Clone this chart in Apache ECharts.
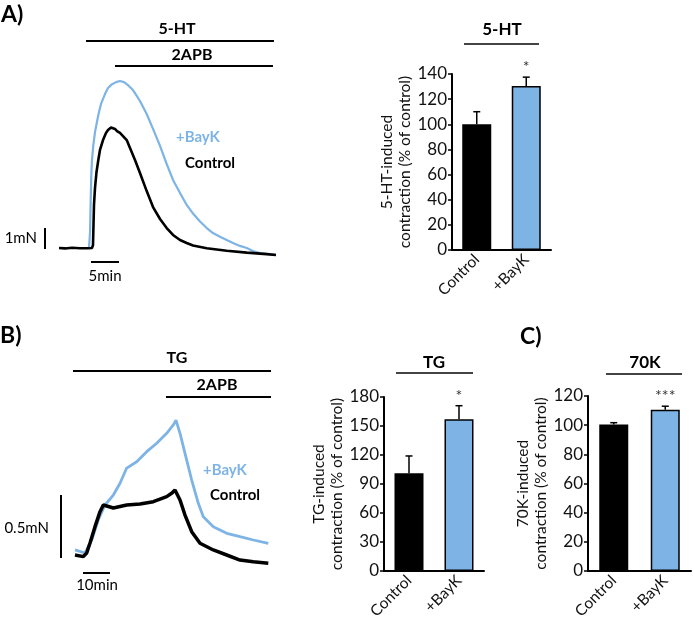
<!DOCTYPE html>
<html><head><meta charset="utf-8">
<script src="https://cdn.jsdelivr.net/npm/echarts@6/dist/echarts.min.js"></script>
<style>html,body{margin:0;padding:0;background:#fff}#c{width:693px;height:622px}</style>
</head><body><div id="c"></div>
<script>
// ---------- Panel A trace (time in min, force in mN) ----------
const traceA_ctrl_t = [0,1.07,2.32,3.75,5.18,5.89,6.07,6.16,6.25,6.43,6.70,7.02,7.32,7.86,8.39,8.75,9.29,9.64,10.0,10.36,10.89,11.43,12.09,12.68,13.57,14.46,15.66,16.79,18.04,19.23,20.36,21.61,22.80,23.93,26.38,29.95,33.52,37.09,38.75];
const traceA_ctrl_f = [0,-0.02,0.01,-0.01,-0.01,0,0.14,1.10,2.05,2.86,3.62,4.19,4.67,5.14,5.48,5.62,5.74,5.76,5.67,5.57,5.48,5.33,5.14,4.76,4.19,3.57,2.71,1.95,1.38,0.95,0.62,0.38,0.24,0.12,-0.01,-0.13,-0.22,-0.29,-0.33];
const traceA_bayk_t = [0,1.96,3.75,5.36,5.54,5.66,5.77,5.89,6.13,6.43,7.02,7.50,8.21,8.75,9.41,10.18,10.89,11.61,12.38,13.21,13.88,14.46,15.66,16.79,18.04,19.23,20.36,21.61,22.80,23.93,25.18,26.38,27.50,28.75,29.95,31.07,32.32,33.52,34.64,35.89,38.75];
const traceA_bayk_f = [0,0,0,0,0.76,2.29,3.48,4.19,4.90,5.52,6.33,6.86,7.33,7.62,7.79,7.90,7.95,7.90,7.74,7.52,7.24,7.00,6.38,5.67,4.86,4.00,3.24,2.62,2.05,1.64,1.26,0.95,0.71,0.54,0.38,0.24,0.10,0,-0.14,-0.24,-0.33];
const drugA_5HT = [4.82, 38.39];
const drugA_2APB = [10.0, 38.21];

// ---------- Panel B trace (time in min, force in mN) ----------
const traceB_ctrl_t = [0,3.07,4.33,5.56,7.41,9.26,10.48,11.74,14.19,19.15,24.07,29.0,33.96,35.93,37.04,38.89,40.74,43.22,46.30,51.22,56.19,61.11,66.04,71.59];
const traceB_ctrl_f = [0,-0.013,0.016,0.095,0.225,0.344,0.397,0.389,0.373,0.397,0.405,0.423,0.463,0.492,0.516,0.437,0.317,0.185,0.093,0.040,0,-0.040,-0.053,-0.066];
const traceB_bayk_t = [0,3.70,6.19,8.63,11.11,14.19,16.67,19.15,22.85,26.56,30.26,33.96,36.41,37.41,38.89,40.74,43.22,45.67,47.52,51.22,56.19,61.11,66.04,71.59];
const traceB_bayk_f = [0.040,0.016,0.119,0.278,0.397,0.476,0.569,0.690,0.740,0.820,0.887,0.966,1.032,1.071,0.966,0.807,0.595,0.410,0.304,0.225,0.172,0.145,0.119,0.093];
const drugB_TG = [-0.74, 72.6];
const drugB_2APB = [33.7, 72.6];

// ---------- Bar charts ----------
const categories = ['Control', '+BayK'];
const barA_values = [100, 130.5];
const barA_err = [10, 7];
const barA_sig = ['', '*'];
const barB_values = [101, 157];
const barB_err = [18, 14];
const barB_sig = ['', '*'];
const barC_values = [100.5, 110.5];
const barC_err = [1.2, 2.5];
const barC_sig = ['', '***'];

const FONT = 'Lato, "Open Sans", sans-serif';
const BLUE = '#7db4e5';
const BAR_COLORS = ['#000000', BLUE];
const zip = (t, f) => t.map((v, i) => [v, f[i]]);

function hLine(tr, level) { return [{coord: [tr[0], level]}, {coord: [tr[1], level]}]; }

function barAxes(gi, max, interval, name, gap) {
  return {
    x: {
      type: 'category', gridIndex: gi, data: categories,
      axisLine: {lineStyle: {color: '#000', width: 2}},
      axisTick: {show: false},
      axisLabel: {rotate: 45, interval: 0, fontSize: 15.5, color: '#111', fontFamily: FONT, margin: 7}
    },
    y: {
      type: 'value', gridIndex: gi, min: 0, max: max, interval: interval,
      axisLine: {show: true, lineStyle: {color: '#000', width: 2}},
      axisTick: {show: true, length: 4, lineStyle: {color: '#000', width: 1.5}},
      axisLabel: {fontSize: 17, color: '#111', fontFamily: FONT, margin: 5},
      splitLine: {show: false},
      name: name, nameLocation: 'middle', nameRotate: 90, nameGap: gap,
      nameTextStyle: {fontSize: 15.5, color: '#111', fontFamily: FONT, lineHeight: 18}
    }
  };
}

function barSeries(axisIdx, values) {
  return {
    type: 'bar', xAxisIndex: axisIdx, yAxisIndex: axisIdx, barWidth: 29,
    data: values.map((v, i) => ({value: v, itemStyle: {color: BAR_COLORS[i]}})),
    itemStyle: {borderColor: '#000', borderWidth: 1.5},
    silent: true, animation: false
  };
}

function errSeries(axisIdx, values, errs, sig) {
  return {
    type: 'custom', xAxisIndex: axisIdx, yAxisIndex: axisIdx, silent: true, animation: false,
    encode: {x: 0, y: 1},
    data: values.map((v, i) => [i, v, errs[i]]),
    z: 5,
    renderItem: function (params, api) {
      const idx = api.value(0), v = api.value(1), e = api.value(2);
      const base = api.coord([idx, v]);
      const top = api.coord([idx, v + e]);
      const cap = 3.5;
      const children = [
        {type: 'line', shape: {x1: base[0], y1: base[1], x2: top[0], y2: top[1]}, style: {stroke: '#000', lineWidth: 1.5}},
        {type: 'line', shape: {x1: top[0] - cap, y1: top[1], x2: top[0] + cap, y2: top[1]}, style: {stroke: '#000', lineWidth: 1.5}}
      ];
      const s = sig[params.dataIndex];
      if (s) children.push({type: 'text', x: top[0], y: top[1] - 10,
        style: {text: s, fill: '#333', font: '16px ' + FONT, align: 'center', verticalAlign: 'middle', textAlign: 'center', textVerticalAlign: 'middle'}});
      return {type: 'group', children: children};
    }
  };
}

function txt(x, y, text, size, weight, color, align) {
  return {type: 'text', x: x, y: y, silent: true,
    style: {text: text, fill: color || '#000', font: (weight || 'normal') + ' ' + size + 'px ' + FONT,
      align: align || 'center', verticalAlign: 'middle', textAlign: align || 'center', textVerticalAlign: 'middle'}};
}
function seg(x1, y1, x2, y2, color, w) {
  return {type: 'line', silent: true, shape: {x1: x1, y1: y1, x2: x2, y2: y2}, style: {stroke: color, lineWidth: w}};
}

const aBar = barAxes(1, 140, 20, '5-HT-induced\ncontraction (% of control)', 36);
const bBar = barAxes(3, 180, 30, 'TG-induced\ncontraction (% of control)', 37);
const cBar = barAxes(4, 120, 20, '70K-induced\ncontraction (% of control)', 28);

const option = {
  backgroundColor: '#fff',
  animation: false,
  grid: [
    {left: 31, top: 17, width: 257.6, height: 273, containLabel: false, outerBoundsMode: 'none'},
    {left: 452, top: 74, width: 99, height: 176, containLabel: false, outerBoundsMode: 'none'},
    {left: 7.5, top: 334.5, width: 283.5, height: 258.3, containLabel: false, outerBoundsMode: 'none'},
    {left: 384, top: 397, width: 100, height: 174, containLabel: false, outerBoundsMode: 'none'},
    {left: 588, top: 396, width: 103, height: 175, containLabel: false, outerBoundsMode: 'none'}
  ],
  xAxis: [
    {type: 'value', gridIndex: 0, min: -5, max: 41, show: false},
    aBar.x,
    {type: 'value', gridIndex: 2, min: -25, max: 80, show: false},
    bBar.x,
    cBar.x
  ],
  yAxis: [
    {type: 'value', gridIndex: 0, min: -2, max: 11, show: false},
    aBar.y,
    {type: 'value', gridIndex: 2, min: -0.3, max: 1.75, show: false},
    bBar.y,
    cBar.y
  ],
  series: [
    {type: 'line', xAxisIndex: 0, yAxisIndex: 0, data: zip(traceA_bayk_t, traceA_bayk_f), symbol: 'none',
      lineStyle: {color: BLUE, width: 2.2}, silent: true},
    {type: 'line', xAxisIndex: 0, yAxisIndex: 0, data: zip(traceA_ctrl_t, traceA_ctrl_f), symbol: 'none',
      lineStyle: {color: '#000', width: 2.6}, silent: true,
      markLine: {silent: true, symbol: ['none', 'none'], label: {show: false},
        lineStyle: {color: '#000', width: 2, type: 'solid'},
        data: [hLine(drugA_5HT, 9.857), hLine(drugA_2APB, 8.667),
          [{coord: [-2.5, -0.05]}, {coord: [-2.5, 0.95]}],
          [{coord: [5.71, -0.667]}, {coord: [10.71, -0.667]}]]}},
    barSeries(1, barA_values),
    errSeries(1, barA_values, barA_err, barA_sig),
    {type: 'line', xAxisIndex: 2, yAxisIndex: 2, data: zip(traceB_bayk_t, traceB_bayk_f), symbol: 'none',
      lineStyle: {color: BLUE, width: 2.8}, silent: true},
    {type: 'line', xAxisIndex: 2, yAxisIndex: 2, data: zip(traceB_ctrl_t, traceB_ctrl_f), symbol: 'none',
      lineStyle: {color: '#000', width: 3.5}, silent: true,
      markLine: {silent: true, symbol: ['none', 'none'], label: {show: false},
        lineStyle: {color: '#000', width: 2, type: 'solid'},
        data: [hLine(drugB_TG, 1.46), hLine(drugB_2APB, 1.254),
          [{coord: [-5.19, -0.024]}, {coord: [-5.19, 0.476]}],
          [{coord: [2.96, -0.143]}, {coord: [12.96, -0.143]}]]}},
    barSeries(3, barB_values),
    errSeries(3, barB_values, barB_err, barB_sig),
    barSeries(4, barC_values),
    errSeries(4, barC_values, barC_err, barC_sig)
  ],
  graphic: [
    txt(1, 15, 'A)', 23, 'bold', '#000', 'left'),
    txt(0, 336, 'B)', 23, 'bold', '#000', 'left'),
    txt(520, 337, 'C)', 23, 'bold', '#000', 'left'),
    txt(177, 29, '5-HT', 16, 'bold'),
    txt(192, 55, '2APB', 16, 'bold'),
    txt(176, 137, '+BayK', 15, 'bold', BLUE, 'left'),
    txt(185, 163, 'Control', 15, 'bold', '#000', 'left'),
    txt(37, 238, '1mN', 15, 'normal', '#000', 'right'),
    txt(105, 276, '5min', 15),
    txt(502, 30, '5-HT', 17, 'bold'),
    seg(464, 44, 539, 44, '#444', 2),
    txt(177, 358, 'TG', 16, 'bold'),
    txt(217, 385, '2APB', 16, 'bold'),
    txt(203, 470, '+BayK', 15, 'bold', BLUE, 'left'),
    txt(210, 495, 'Control', 15, 'bold', '#000', 'left'),
    txt(49, 528, '0.5mN', 15, 'normal', '#000', 'right'),
    txt(97, 585, '10min', 15),
    txt(434, 363, 'TG', 17, 'bold'),
    seg(396, 373, 473, 373, '#444', 2),
    txt(645, 363, '70K', 17, 'bold'),
    seg(606, 374, 682, 374, '#444', 2)
  ]
};
const chart = echarts.init(document.getElementById('c'));
chart.setOption(option);
</script></body></html>
